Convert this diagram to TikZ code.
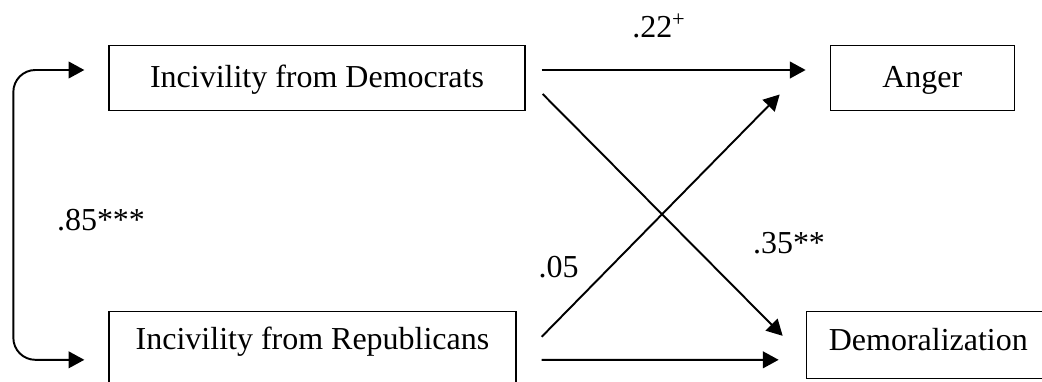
\documentclass[tikz,border=0pt]{standalone}
\usepackage{fontspec}
\setmainfont{Liberation Serif}
\usetikzlibrary{arrows.meta, positioning}
\tikzstyle{box} = [rectangle, draw=black, line width=0.75pt, minimum height=1.3cm, text height=0.52cm, text depth=0.16cm, inner sep=1pt, align=center]
\tikzstyle{arrow} = [line width=1.1pt, ->, >={Triangle[length=9pt,width=9.5pt]}]
\tikzstyle{coef} = [inner sep=0pt]

\begin{document}
\begin{tikzpicture}[font=\fontsize{18.2pt}{22pt}\selectfont]
    \useasboundingbox (0,0) rectangle (20.84,-7.62);
    % Incivility sources
    \node (dem) [box, minimum width=8.32cm] at (6.34,-1.56) {Incivility from Democrats};
    \node (rep) [box, minimum width=8.14cm, minimum height=1.56cm, text depth=0.56cm, below=4cm of dem.south west, anchor=north west] {Incivility from Republicans};
    % Emotions
    \node (anger) [box, minimum width=3.68cm, right=6.08cm of dem] {Anger};
    \node (demor) [box, minimum width=4.88cm, minimum height=1.34cm, text depth=0.3cm, right=5.78cm of rep.north east, anchor=north west] {Demoralization};

    \draw [arrow] ([xshift=0.32cm,yshift=0.16cm]dem.east) -- ([xshift=-0.48cm,yshift=0.16cm]anger.west);
    \draw [arrow] ([xshift=0.34cm,yshift=-0.32cm]dem.east) -- ([xshift=-0.46cm,yshift=0.19cm]demor.west);
    \draw [arrow] ([xshift=0.5cm,yshift=0.28cm]rep.east) -- ([xshift=-1cm,yshift=-0.33cm]anger.west);
    \draw [arrow] ([xshift=0.5cm,yshift=-0.18cm]rep.east) -- ([xshift=-0.54cm,yshift=-0.29cm]demor.west);
    % Correlation
    \draw [arrow, <->, rounded corners=0.44cm] ([xshift=-0.48cm,yshift=0.16cm]dem.west) -- ++(-1.42cm,0) |- ([xshift=-0.48cm,yshift=-0.18cm]rep.west);

    % Coefficients
    \node (b_da) [coef, anchor=base] at (13.18,-0.76) {.22\textsuperscript{+}};
    \node (b_dd) [coef, anchor=base] at (15.78,-5.06) {.35**};
    \node (b_ra) [coef, anchor=base] at (11.17,-5.54) {.05};
    \node (b_rr) [coef, anchor=base] at (2.02,-4.6) {.85***};
\end{tikzpicture}
\end{document}
